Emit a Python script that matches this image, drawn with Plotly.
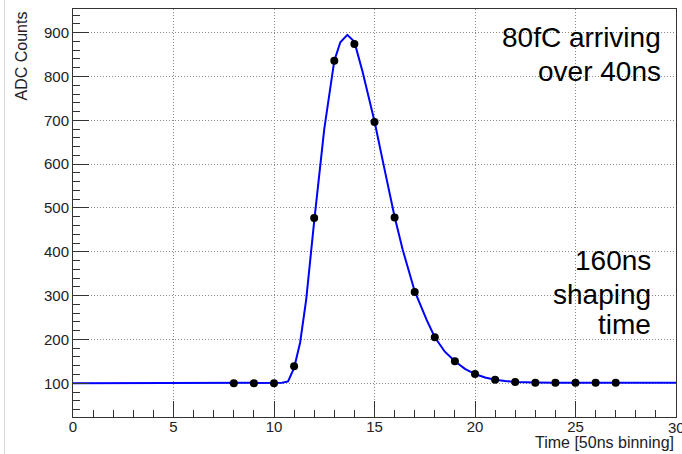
import plotly.graph_objects as go

# Measured samples
sample_x = [8, 9, 10, 11, 12, 13, 14, 15, 16, 17, 18, 19, 20, 21, 22, 23, 24, 25, 26, 27]
sample_y = [100, 100, 100, 139, 477, 836, 874, 696, 478, 308, 205, 150, 121, 108, 103, 101, 101, 101, 101, 101]

# Fitted pulse shape
fit_x = [0, 10.0, 10.4, 10.7, 11.0, 11.3, 11.6, 12.0, 12.5, 13.0, 13.3, 13.65, 14.0, 14.4, 14.8, 15.0,
         15.5, 16.0, 16.4, 17.0, 17.6, 18.0, 18.5, 19.0, 19.5, 20.0, 20.5, 21.0, 21.5, 22.0, 23.0, 24.0, 30.0]
fit_y = [100, 100, 101, 104, 135, 193, 290, 470, 680, 836, 878, 895, 879, 812, 738, 698,
         588, 480, 405, 310, 244, 205, 172, 150, 133, 121, 113, 108, 105, 103, 101.5, 101, 101]

x_ticks = [0, 5, 10, 15, 20, 25, 30]
y_ticks = [100, 200, 300, 400, 500, 600, 700, 800, 900]
x_title = "Time [50ns binning]"
y_title = "ADC Counts"
label_top = ["80fC arriving", "over 40ns"]
label_mid = ["160ns", "shaping", "time"]

FONT = "Liberation Sans, Arial, Helvetica, sans-serif"

fig = go.Figure()
fig.add_trace(go.Scatter(x=fit_x, y=fit_y, mode="lines",
                         line=dict(color="#0000ff", width=2), hoverinfo="skip"))
fig.add_trace(go.Scatter(x=sample_x, y=sample_y, mode="markers",
                         marker=dict(color="black", size=8)))

W, H = 682, 454
L, R, T, B = 73, 6, 9, 37
pw, ph = W - L - R, H - T - B

def px(xp):
    return (xp - L) / pw

def py(yp):
    return 1 - (yp - T) / ph

annotations = []
for txt, yc in zip(label_top, [38, 71]):
    annotations.append(dict(text=txt, xref="paper", yref="paper", x=px(663), y=py(yc),
                            xanchor="right", yanchor="middle", showarrow=False,
                            font=dict(family=FONT, size=28, color="black")))
for txt, yc in zip(label_mid, [260, 294, 324]):
    annotations.append(dict(text=txt, xref="paper", yref="paper", x=px(653), y=py(yc),
                            xanchor="right", yanchor="middle", showarrow=False,
                            font=dict(family=FONT, size=28, color="black")))
annotations.append(dict(text=x_title, xref="paper", yref="paper", x=px(676), y=py(442),
                        xanchor="right", yanchor="middle", showarrow=False,
                        font=dict(family=FONT, size=16, color="#222")))
annotations.append(dict(text=y_title, xref="paper", yref="paper", x=px(21), y=py(10),
                        xanchor="center", yanchor="top", textangle=-90, showarrow=False,
                        font=dict(family=FONT, size=16, color="#222")))
# last x tick label (clipped by the page edge, as in the reference)
annotations.append(dict(text=str(x_ticks[-1]), xref="x", yref="paper", x=x_ticks[-1], y=py(428),
                        xanchor="center", yanchor="middle", showarrow=False,
                        font=dict(family=FONT, size=15, color="#222")))

fig.update_layout(
    width=W, height=H,
    margin=dict(l=L, r=R, t=T, b=B, pad=0),
    paper_bgcolor="white", plot_bgcolor="white",
    showlegend=False,
    annotations=annotations,
    shapes=[dict(type="line", xref="paper", yref="paper", x0=px(4.5), x1=px(4.5),
                 y0=py(H), y1=py(0), line=dict(color="#d8d8d8", width=1))],
    font=dict(family=FONT, size=15, color="#222"),
)
fig.update_xaxes(range=[0, 30], tickvals=x_ticks[:-1],
                 ticks="inside", ticklen=16, tickcolor="#333", tickwidth=1,
                 ticklabelstandoff=-4,
                 minor=dict(dtick=1, ticks="inside", ticklen=7, tickcolor="#333", showgrid=False),
                 showgrid=True, gridcolor="#888", griddash="1px,2px", gridwidth=1,
                 showline=True, linecolor="#333", linewidth=1, mirror=True,
                 zeroline=False, tickfont=dict(size=15))
fig.update_yaxes(range=[23, 954], tickvals=y_ticks,
                 ticks="inside", ticklen=16, tickcolor="#333", tickwidth=1,
                 minor=dict(dtick=20, tick0=0, ticks="inside", ticklen=7, tickcolor="#333", showgrid=False),
                 showgrid=True, gridcolor="#888", griddash="1px,2px", gridwidth=1,
                 showline=True, linecolor="#333", linewidth=1, mirror=True,
                 zeroline=False, tickfont=dict(size=15))

fig.write_html("out.html")
